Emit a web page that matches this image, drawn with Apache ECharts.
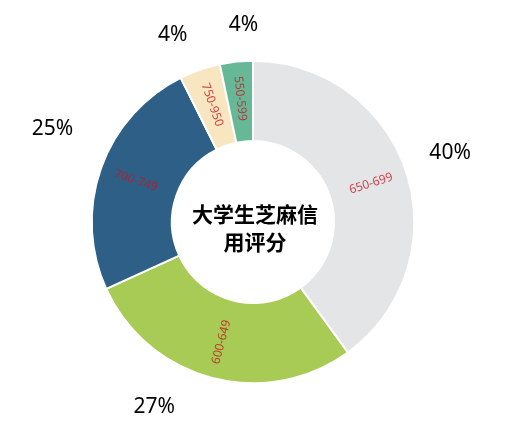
<!DOCTYPE html>
<html>
<head>
  <meta charset="UTF-8">
  <script src="https://cdnjs.cloudflare.com/ajax/libs/echarts/6.0.0/echarts.min.js"></script>
  <title></title>
  <style>
    html, body { margin: 0; padding: 0; background: #fff; }
    #chart { width: 510px; height: 430px; }
  </style>
</head>
<body>
  <div id="chart"></div>
  <script>
    // score ranges, clockwise from the top
    const ranges = ['650-699', '600-649', '700-749', '750-950', '550-599'];
    const shares = [40.0, 28.2, 24.4, 4.1, 3.3];
    // percent texts as printed on the chart
    const pctLabels = ['40%', '27%', '25%', '4%', '4%'];
    const colors = ['#e4e5e7', '#a8cb55', '#2e5f86', '#f7e6bf', '#67b897'];
    // nudges for the percent labels, they don't sit exactly on the mid angle
    const pctOffsets = [[0, -5], [-46, -15], [-5, -24], [-12, 9], [12, 9]];

    let data = ranges.map((r, i) => ({ name: r, value: shares[i] }));
    let pctData = ranges.map((r, i) => ({
      name: r, value: shares[i],
      label: { offset: pctOffsets[i], formatter: pctLabels[i] }
    }));

    let chart = echarts.init(document.getElementById('chart'));
    chart.setOption({
      color: colors,
      graphic: [{
        type: 'text',
        left: 'center',
        top: 200,
        style: {
          text: '大学生芝麻信\n用评分',
          textAlign: 'center',
          font: 'bold 21px "Noto Sans CJK SC"',
          lineHeight: 28,
          fill: '#000'
        }
      }],
      series: [
        {
          type: 'pie',
          center: [253, 222],
          radius: ['37.7%', '75%'],
          startAngle: 90,
          itemStyle: { borderColor: '#fff', borderWidth: 2 },
          label: {
            position: 'inside',
            rotate: 'radial',
            formatter: '{b}',
            fontFamily: 'Noto Sans',
            fontSize: 12,
            color: 'rgba(195,25,35,0.8)'
          },
          labelLine: { show: false },
          emphasis: { disabled: true },
          data: data
        },
        {
          type: 'pie',
          center: [253, 222],
          radius: ['75%', '115%'],
          startAngle: 90,
          silent: true,
          itemStyle: { color: 'rgba(0,0,0,0)' },
          label: {
            position: 'inside',
            fontFamily: 'Noto Sans',
            fontSize: 21,
            color: '#000'
          },
          labelLine: { show: false },
          data: pctData
        }
      ]
    });
  </script>
</body>
</html>
